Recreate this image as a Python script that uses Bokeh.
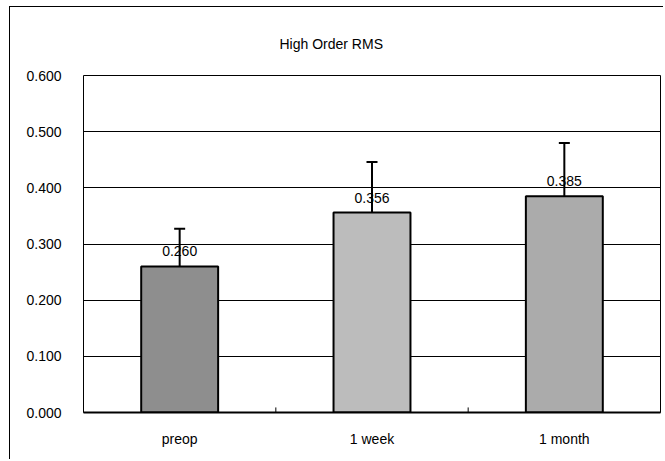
from bokeh.plotting import figure
from bokeh.models import ColumnDataSource, LabelSet, Whisker, TeeHead, FactorRange, Range1d, FixedTicker, NumeralTickFormatter
from bokeh.core.properties import value
from bokeh.embed import file_html
from bokeh.resources import INLINE

categories = ["preop", "1 week", "1 month"]
means = [0.260, 0.356, 0.385]
err_lower = [0.205, 0.262, 0.291]
err_upper = [0.327, 0.446, 0.480]
mean_labels = ["0.260", "0.356", "0.385"]
y_ticks = [0.0, 0.1, 0.2, 0.3, 0.4, 0.5, 0.6]
bar_colors = ["#8e8e8e", "#bcbcbc", "#ababab"]
title_text = "High Order RMS"

src = ColumnDataSource(dict(cat=categories, mean=means, lower=err_lower, upper=err_upper,
                            label=mean_labels, color=bar_colors))

FONT = "Liberation Sans"
FS = "14px"

p = figure(x_range=FactorRange(*categories, range_padding=0), y_range=Range1d(0, 0.6),
           width=654, height=453, output_backend="svg", toolbar_location=None,
           min_border_left=73, min_border_right=4, min_border_top=68, min_border_bottom=48)
p.styles = {"margin-left": "9px", "margin-top": "6px",
            "border-left": "1px solid black", "border-top": "1px solid black"}

p.title.text = title_text
p.title.text_font = FONT
p.title.text_font_size = FS
p.title.text_font_style = "normal"
p.title.text_color = "black"
p.title.align = "left"
p.title.offset = 196
p.title.standoff = 43
p.title.vertical_align = "top"

p.vbar(x="cat", top="mean", width=0.40, source=src, fill_color="color",
       line_color="black", line_width=2)

w = Whisker(base="cat", lower="lower", upper="upper", source=src, line_color="black", line_width=2,
            upper_head=TeeHead(size=11, line_width=2, line_color="black"),
            lower_head=TeeHead(size=11, line_width=2, line_color="black"))
p.add_layout(w)

labels = LabelSet(x="cat", y="mean", text="label", source=src, y_offset=10,
                  text_align="center", text_baseline="alphabetic",
                  text_font=value(FONT), text_font_size=FS, text_color="black")
p.add_layout(labels)

# small inward tick marks at category boundaries
bnd = ColumnDataSource(dict(x=[(c, -0.5) for c in categories[1:]], y0=[0.0, 0.0], y1=[0.009, 0.009]))
p.segment(x0="x", x1="x", y0="y0", y1="y1", source=bnd, line_color="black", line_width=1)

p.xgrid.grid_line_color = None
p.ygrid.grid_line_color = "black"
p.ygrid.grid_line_width = 1
p.ygrid.ticker = FixedTicker(ticks=y_ticks)

p.yaxis.ticker = FixedTicker(ticks=y_ticks)
p.yaxis.formatter = NumeralTickFormatter(format="0.000")
p.yaxis.axis_line_color = None
p.yaxis.major_tick_line_color = None
p.yaxis.minor_tick_line_color = None
p.yaxis.major_label_standoff = 16
p.yaxis.major_label_text_font = FONT
p.yaxis.major_label_text_font_size = FS
p.yaxis.major_label_text_color = "black"

p.xaxis.axis_line_color = "black"
p.xaxis.axis_line_width = 2
p.xaxis.major_tick_line_color = None
p.xaxis.minor_tick_line_color = None
p.xaxis.major_label_standoff = 12
p.xaxis.major_label_text_font = FONT
p.xaxis.major_label_text_font_size = FS
p.xaxis.major_label_text_color = "black"

p.outline_line_color = "black"
p.outline_line_width = 1
p.background_fill_color = "white"
p.border_fill_color = "white"

open("out.html", "w").write(file_html(p, INLINE))
